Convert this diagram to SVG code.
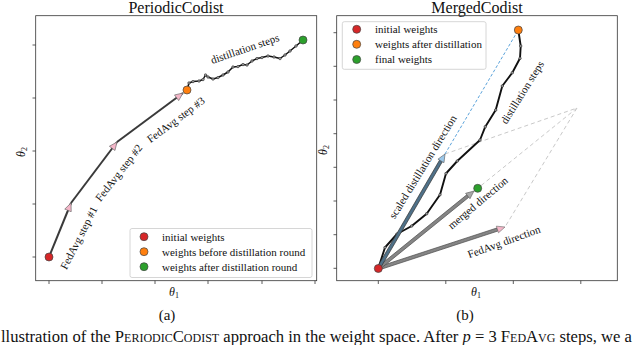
<svg xmlns="http://www.w3.org/2000/svg" width="640" height="345" viewBox="0 0 640 345">
<style>
text{font-family:"Liberation Serif","Times New Roman",serif;fill:#111}
.title{font-size:16px;text-anchor:middle}
.lab{font-size:11px;text-anchor:middle}
.leg{font-size:11px}
.ax{font-size:12px;font-style:italic;text-anchor:middle}
.sub{font-size:8px;font-style:normal}
.frame{fill:none;stroke:#333;stroke-width:0.8}
.tick{stroke:#333;stroke-width:0.8}
.dpath{fill:none;stroke:#111;stroke-width:1.5;stroke-linejoin:round;marker-mid:url(#dot)}
.dpathb{stroke-width:1.9}
.seg{stroke:#3a3a3a;stroke-width:2;marker-end:url(#pinkhead)}
.pt{stroke:#444;stroke-width:0.7}
.red{fill:#d62728}.orange{fill:#ff7f0e}.green{fill:#2ca02c}
.legbox{fill:#fff;fill-opacity:0.85;stroke:#ccc;stroke-width:0.8}
.gdash{fill:none;stroke:#c9c9c9;stroke-width:1;stroke-dasharray:4 3}
.bdash{fill:none;stroke:#5ba3db;stroke-width:1;stroke-dasharray:3 2}
.shaft{fill:#858585;stroke:#4a4a4a;stroke-width:0.7}
.bshaft{fill:#4f7189;stroke:#333;stroke-width:0.7}
.sc{font-variant:small-caps}
</style>
<defs>
<marker id="dot" markerUnits="userSpaceOnUse" markerWidth="4" markerHeight="4" refX="2" refY="2" viewBox="0 0 4 4">
<circle cx="2" cy="2" r="1.3" fill="#999" stroke="#222" stroke-width="0.5"/>
</marker>
<marker id="pinkhead" markerUnits="userSpaceOnUse" markerWidth="10" markerHeight="8" refX="8.5" refY="4" orient="auto" viewBox="0 0 10 8">
<path d="M0.5,0.5 L8.5,4 L0.5,7.5 z" fill="#f4b6c8" stroke="#666" stroke-width="0.6"/>
</marker>
</defs>

<g id="panel-a">
<text class="title" x="176" y="13">PeriodicCodist</text>
<rect class="frame" x="35.7" y="15.7" width="281" height="265"/>
<g id="ticks-a">
<path class="tick" d="M32.5,45H35.7M32.5,98H35.7M32.5,151H35.7M32.5,204H35.7M32.5,257H35.7M49,280.7V284M102,280.7V284M155,280.7V284M208,280.7V284M262,280.7V284M315,280.7V284"/>
</g>
<text class="ax" x="174" y="296">θ<tspan class="sub" dy="2">1</tspan></text>
<text class="ax" transform="translate(25,152) rotate(-90)" x="0" y="0">θ<tspan class="sub" dy="2">2</tspan></text>
<g id="connectors-a">
<line class="seg" x1="49" y1="257" x2="71" y2="203"/>
<line class="seg" x1="71" y1="203" x2="117" y2="142"/>
<line class="seg" x1="117" y1="142" x2="183" y2="93"/>
<polyline class="dpath" points="187,90 189,83 193,81.5 199,81 203,79.5 205.5,75 208,77 213,79 218,77.5 223,75 228,72 233,67 238,66.5 243,64.5 247,65 252,61 257,58.5 262,57.5 268,56 274,57 280,58.5 285,55 290,51 296,46 303,40"/>
</g>
<g id="points-a">
<circle class="pt red" cx="49" cy="257" r="4"/>
<circle class="pt orange" cx="187" cy="90" r="4"/>
<circle class="pt green" cx="303" cy="40" r="4"/>
</g>
<g id="labels-a">
<text class="lab" transform="translate(79,238) rotate(-63)" x="0" y="3.5">FedAvg step #1</text>
<text class="lab" transform="translate(119,173) rotate(-52)" x="0" y="3.5">FedAvg step #2</text>
<text class="lab" transform="translate(176,120) rotate(-36.5)" x="0" y="3.5">FedAvg step #3</text>
<text class="lab" transform="translate(245,49) rotate(-19)" x="0" y="3.5">distillation steps</text>
</g>
<g id="legend-a">
<rect class="legbox" x="130" y="228.5" width="182" height="49" rx="2"/>
<circle class="pt red" cx="144" cy="236.7" r="4"/>
<circle class="pt orange" cx="144" cy="251.7" r="4"/>
<circle class="pt green" cx="144" cy="266.7" r="4"/>
<text class="leg" x="162" y="240.5">initial weights</text>
<text class="leg" x="162" y="255.5">weights before distillation round</text>
<text class="leg" x="162" y="270.5">weights after distillation round</text>
</g>
<text x="167" y="320" font-size="15" text-anchor="middle">(a)</text>
</g>

<g id="panel-b">
<text class="title" x="477" y="13">MergedCodist</text>
<rect class="frame" x="336.7" y="15.7" width="280.6" height="265"/>
<g id="ticks-b">
<path class="tick" d="M333.5,32.7H336.7M333.5,66.3H336.7M333.5,100H336.7M333.5,133.7H336.7M333.5,167.3H336.7M333.5,201H336.7M333.5,234.7H336.7M333.5,268.3H336.7M378.3,280.7V284M445.8,280.7V284M513.3,280.7V284M580.8,280.7V284"/>
</g>
<text class="ax" x="476" y="296">θ<tspan class="sub" dy="2">1</tspan></text>
<text class="ax" transform="translate(327,150) rotate(-90)" x="0" y="0">θ<tspan class="sub" dy="2">2</tspan></text>
<g id="connectors-b">
<path class="gdash" d="M445,154 L577,108 L477.7,188.3 M577,108 L505,227"/>
<path class="bdash" d="M445,154 L518.3,30"/>
<polyline class="dpath dpathb" points="378.3,268.3 385,247.5 397,234 411.7,226 426.7,213.7 440,194.7 446,173.5 457.3,161 480,140 485.3,126.7 495.7,110 502.3,86 512.3,72.7 520,58.3 520.7,46 518.3,30"/>
<g id="arrow-fedavg">
<polygon class="shaft" points="378.80,270.02 497.90,231.01 496.90,227.97 377.80,266.98"/>
<polygon points="498.49,232.82 505,227 496.31,226.16" fill="#f4b6c8" stroke="#666" stroke-width="0.6"/>
</g>
<g id="arrow-merged">
<polygon class="shaft" points="379.31,269.74 468.79,197.27 466.77,194.79 377.29,267.26"/>
<polygon points="469.98,198.75 474,191 465.58,193.31" fill="#a8a8a8" stroke="#555" stroke-width="0.6"/>
</g>
<g id="arrow-scaled">
<polygon class="bshaft" points="379.68,269.31 442.35,161.72 439.59,160.10 376.92,267.69"/>
<polygon points="443.99,162.67 445,154 437.95,159.15" fill="#9cc8ea" stroke="#555" stroke-width="0.6"/>
</g>
</g>
<g id="points-b">
<circle class="pt red" cx="378.3" cy="268.5" r="4"/>
<circle class="pt orange" cx="518.3" cy="30" r="4"/>
<circle class="pt green" cx="477.7" cy="188.3" r="4"/>
</g>
<g id="labels-b">
<text class="lab" transform="translate(522.5,92.5) rotate(-58)" x="0" y="3.5">distillation steps</text>
<text class="lab" transform="translate(423,167) rotate(-58.5)" x="0" y="3.5">scaled distillation direction</text>
<text class="lab" transform="translate(478,203) rotate(-40)" x="0" y="3.5">merged direction</text>
<text class="lab" transform="translate(504,242) rotate(-20)" x="0" y="3.5">FedAvg direction</text>
</g>
<g id="legend-b">
<rect class="legbox" x="342.3" y="21.7" width="143.7" height="47.6" rx="2"/>
<circle class="pt red" cx="356.7" cy="29.3" r="4"/>
<circle class="pt orange" cx="356.7" cy="44.3" r="4"/>
<circle class="pt green" cx="356.7" cy="59.5" r="4"/>
<text class="leg" x="375" y="33">initial weights</text>
<text class="leg" x="375" y="48">weights after distillation</text>
<text class="leg" x="375" y="63.2">final weights</text>
</g>
<text x="465" y="320" font-size="15" text-anchor="middle">(b)</text>
</g>

<text id="caption" x="1" y="342" font-size="16.6">llustration of the <tspan class="sc">PeriodicCodist</tspan> approach in the weight space. After <tspan font-style="italic">p</tspan> = 3 <tspan class="sc">FedAvg</tspan> steps, we a</text>
</svg>
